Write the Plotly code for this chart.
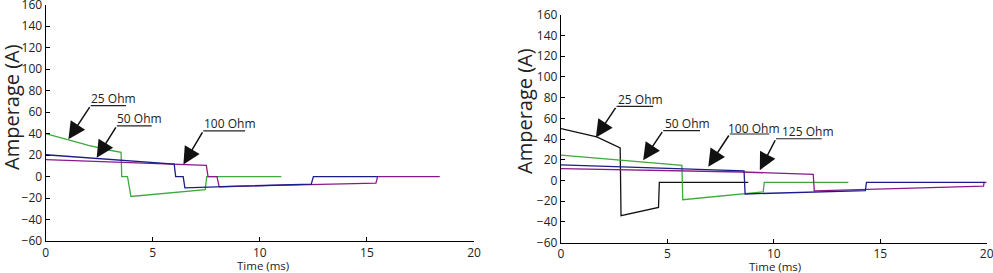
import plotly.graph_objects as go

# ---------------- data (left chart) ----------------
l25_t = [0, 1.0, 2.0, 3.0, 3.52, 3.55, 3.82, 3.98, 7.45, 7.52, 11.0]
l25_a = [40, 34.5, 29, 24.5, 22.5, 0, 0, -18.5, -12.2, 0, 0]
l50_t = [0, 6.0, 6.07, 6.42, 6.5, 12.4, 12.5, 15.5]
l50_a = [20.3, 11.5, 0, 0, -10.5, -7, 0, 0]
l100_t = [0, 7.5, 7.58, 8.0, 8.1, 15.42, 15.5, 18.4]
l100_a = [15.8, 10.5, 0, 0, -9.5, -6.1, 0, 0]

# ---------------- data (right chart) ----------------
r25_t = [0, 1.68, 2.78, 2.82, 4.58, 4.62, 8.8]
r25_a = [50, 42, 31.5, -34, -26, -1.7, -1.7]
r50_t = [0, 5.68, 5.72, 9.5, 9.55, 13.5]
r50_a = [24.5, 14.6, -18.5, -11, -1.7, -1.7]
r100_t = [0, 8.6, 8.65, 14.3, 14.35, 19.9]
r100_a = [15, 9.3, -13, -9.7, -1.7, -1.7]
r125_t = [0, 8.5, 11.85, 11.9, 19.85, 19.88, 20.0]
r125_a = [11.5, 8.2, 6.0, -10, -5.5, -1.7, -1.7]

x_ticks = [0, 5, 10, 15, 20]
y_ticks = [-60, -40, -20, 0, 20, 40, 60, 80, 100, 120, 140, 160]

GREEN = "#3daa3a"
BLUE = "#1c1c8a"
PURPLE = "#8a1a8a"
BLACK = "#111111"
FONT = "Open Sans"

fig = go.Figure()
lw = 1.3
fig.add_trace(go.Scatter(x=l25_t, y=l25_a, mode="lines", line=dict(color=GREEN, width=lw), xaxis="x", yaxis="y"))
fig.add_trace(go.Scatter(x=l100_t, y=l100_a, mode="lines", line=dict(color=PURPLE, width=lw), xaxis="x", yaxis="y"))
fig.add_trace(go.Scatter(x=l50_t, y=l50_a, mode="lines", line=dict(color=BLUE, width=lw), xaxis="x", yaxis="y"))

fig.add_trace(go.Scatter(x=r25_t, y=r25_a, mode="lines", line=dict(color=BLACK, width=lw), xaxis="x2", yaxis="y2"))
fig.add_trace(go.Scatter(x=r50_t, y=r50_a, mode="lines", line=dict(color=GREEN, width=lw), xaxis="x2", yaxis="y2"))
fig.add_trace(go.Scatter(x=r125_t, y=r125_a, mode="lines", line=dict(color=PURPLE, width=lw), xaxis="x2", yaxis="y2"))
fig.add_trace(go.Scatter(x=r100_t, y=r100_a, mode="lines", line=dict(color=BLUE, width=lw), xaxis="x2", yaxis="y2"))

axis_common = dict(showgrid=False, zeroline=False, showline=True, linecolor="black", linewidth=1.3,
                   ticks="inside", ticklen=4, tickwidth=1.2, tickcolor="black", ticklabeloverflow="allow",
                   tickfont=dict(family=FONT, size=12, color="#222"), automargin=False, fixedrange=True)

W, H = 993, 273
fig.update_layout(
    width=W, height=H, margin=dict(l=0, r=0, t=0, b=0),
    paper_bgcolor="white", plot_bgcolor="white", showlegend=False,
    xaxis=dict(domain=[45.7 / W, 474 / W], range=[0, 20], tickvals=x_ticks, anchor="y", **axis_common),
    yaxis=dict(domain=[(H - 241) / H, (H - 4.7) / H], range=[-60, 160], tickvals=y_ticks, anchor="x", **axis_common),
    xaxis2=dict(domain=[561 / W, 986.7 / W], range=[0, 20], tickvals=x_ticks, anchor="y2", **axis_common),
    yaxis2=dict(domain=[(H - 242.7) / H, (H - 14.7) / H], range=[-60, 160], tickvals=y_ticks, anchor="x2", **axis_common),
)

anns = []
shapes = []

def label(xr, yr, text, tx, ty, ul_x0, ul_x1, ul_y, tip_x, tip_y):
    anns.append(dict(x=tx, y=ty, xref=xr, yref=yr, text=text, showarrow=False,
                     font=dict(family=FONT, size=12, color="#222"), xanchor="center", yanchor="middle"))
    shapes.append(dict(type="line", xref=xr, yref=yr, x0=ul_x0, x1=ul_x1, y0=ul_y, y1=ul_y,
                       line=dict(color="#222", width=1.2)))
    anns.append(dict(x=tip_x, y=tip_y, xref=xr, yref=yr, ax=ul_x0, ay=ul_y, axref=xr, ayref=yr,
                     text="", showarrow=True, arrowhead=2, arrowsize=2.3, arrowwidth=1.5, arrowcolor="#111"))

# left chart labels
label("x", "y", "25 Ohm", 3.15, 72.5, 2.1, 3.75, 66, 1.06, 34.7)
label("x", "y", "50 Ohm", 4.36, 53.7, 3.32, 4.95, 47.2, 2.38, 17.4)
label("x", "y", "100 Ohm", 8.61, 49.0, 7.36, 9.31, 42.5, 6.43, 11.3)
# right chart labels
label("x2", "y2", "25 Ohm", 3.73, 78.3, 2.61, 4.33, 71.5, 1.64, 41.6)
label("x2", "y2", "50 Ohm", 5.92, 54.6, 4.8, 6.53, 48.1, 3.86, 19.5)
label("x2", "y2", "100 Ohm", 9.06, 50.3, 7.93, 9.78, 44.9, 6.92, 13.3)
label("x2", "y2", "125 Ohm", 11.6, 47.1, 10.1, 12.25, 40.3, 9.34, 10.0)

# axis titles
for xc, yc in [(12, 107), (524, 111)]:
    anns.append(dict(x=xc / W, y=1 - yc / H, xref="paper", yref="paper", text="Amperage (A)", textangle=-90,
                     showarrow=False, font=dict(family=FONT, size=20, color="#222"), xanchor="center", yanchor="middle"))
for xc, yc in [(262.5, 265.5), (775, 266)]:
    anns.append(dict(x=xc / W, y=1 - yc / H, xref="paper", yref="paper", text="Time (ms)",
                     showarrow=False, font=dict(family=FONT, size=11.5, color="#222"), xanchor="center", yanchor="middle"))

fig.update_layout(annotations=anns, shapes=shapes)
fig.write_html("out.html", config={"displayModeBar": False},
               post_script="document.body.style.margin='0';document.body.style.overflow='hidden';")
